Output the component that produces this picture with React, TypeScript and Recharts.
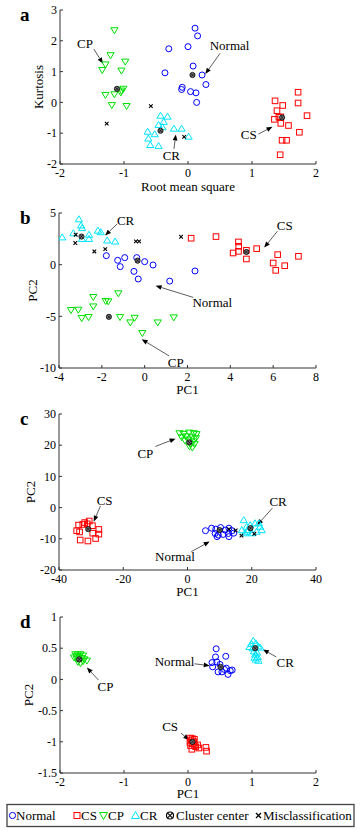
import React from "react";
import {
  ScatterChart,
  Scatter,
  XAxis,
  YAxis,
  ReferenceLine,
  ReferenceDot,
} from "recharts";

type Pt = [number, number];

// ---- panel a: RMS vs kurtosis ----
const normalA: Pt[] = [[0.11, 2.41], [0.15, 2.16], [-0.3, 1.74], [0.0, 1.81], [0.08, 1.18], [-0.36, 0.96], [0.22, 0.89], [0.28, 0.58], [-0.09, 0.49], [-0.1, 0.42], [0.04, 0.35], [0.125, 0.31], [0.135, 0.0]];
const csA: Pt[] = [[1.36, 0.05], [1.72, 0.33], [1.72, -0.02], [1.48, -0.1], [1.39, -0.27], [1.42, -0.48], [1.35, -0.55], [1.45, -0.47], [1.45, -0.68], [1.57, -0.75], [1.86, -0.43], [1.74, -0.97], [1.47, -1.23], [1.54, -1.23], [1.44, -1.7]];
const cpA: Pt[] = [[-1.15, 2.34], [-1.21, 1.53], [-1.29, 1.23], [-1.34, 1.05], [-0.98, 1.32], [-1.04, 1.03], [-1.01, 0.44], [-1.04, 0.38], [-1.05, 0.32], [-1.15, 0.26], [-1.29, 0.24], [-1.19, -0.09], [-0.96, -0.12]];
const crA: Pt[] = [[-0.43, -0.43], [-0.32, -0.46], [-0.38, -0.63], [-0.46, -0.73], [-0.4, -0.8], [-0.22, -0.85], [-0.1, -0.85], [-0.63, -0.95], [-0.52, -1.03], [-0.62, -1.17], [0.01, -1.11], [-0.59, -1.38], [-0.46, -1.41]];
const centersA: Pt[] = [[0.07, 0.89], [-1.11, 0.44], [-0.43, -0.92], [1.47, -0.49]];
const missA: Pt[] = [[-0.58, -0.12], [-1.27, -0.69], [-0.06, -1.12]];

// ---- panel b: PCA ----
const normalB: Pt[] = [[-1.79, 0.87], [-1.26, 0.42], [-0.93, 0.68], [-1.14, -0.19], [-0.37, 0.68], [0.0, 0.29], [0.39, -0.03], [-0.5, -0.65], [-0.3, -1.39], [1.17, -1.59], [2.35, -0.61]];
const csB: Pt[] = [[2.17, 2.56], [3.33, 2.72], [4.38, 2.2], [4.39, 1.78], [4.13, 1.13], [4.38, 1.29], [4.75, 1.39], [4.75, 0.55], [5.23, 1.55], [6.21, 0.97], [6.0, 0.16], [6.12, -0.55], [6.54, -0.1], [7.18, 0.81]];
const cpB: Pt[] = [[-1.23, -2.78], [-2.4, -3.14], [-2.4, -4.05], [-3.44, -4.4], [-3.1, -4.37], [-2.94, -5.18], [-2.62, -5.08], [-1.82, -3.53], [-1.7, -3.56], [-1.15, -5.08], [-0.47, -5.15], [-0.67, -5.6], [0.61, -5.6], [1.36, -5.11], [-0.11, -6.63]];
const crB: Pt[] = [[-3.07, 4.4], [-2.97, 3.8], [-2.92, 3.55], [-3.33, 3.05], [-3.85, 2.65], [-2.93, 2.5], [-2.6, 2.9], [-2.6, 2.5], [-2.18, 3.3], [-2.05, 3.15], [-1.75, 2.35], [-1.38, 2.25]];
const centersB: Pt[] = [[-0.33, 0.39], [-2.95, 2.72], [4.75, 1.23], [-1.67, -5.05]];
const missB: Pt[] = [[-3.22, 2.9], [-3.24, 2.1], [-2.35, 1.28], [-1.84, 1.5], [-0.41, 2.25], [-0.26, 2.25], [1.7, 2.7]];

// ---- panel c ----
const normalC: Pt[] = [[5.6, -7.4], [7.5, -6.6], [8.8, -6.9], [10.3, -6.4], [11.7, -7.2], [12.9, -6.6], [8.6, -8.3], [9.2, -9.3], [11.1, -8.6], [12.7, -8.3], [13.9, -7.4], [12.9, -9.3], [14.4, -8.2], [9.6, -8.8]];
const csC: Pt[] = [[-33.9, -5.6], [-34.5, -7.4], [-33.6, -7.8], [-33.4, -10.4], [-31.0, -10.7], [-28.6, -9.9], [-27.6, -7.0], [-27.6, -8.5], [-29.5, -8.2], [-32.0, -4.8], [-30.6, -4.3], [-31.2, -5.2], [-29.6, -5.8], [-32.6, -5.4]];
const cpC: Pt[] = [[-2.5, 23.8], [-1.2, 23.6], [0.5, 24.0], [2.0, 23.8], [2.8, 23.5], [-1.8, 22.5], [-0.5, 22.8], [1.5, 22.5], [2.6, 22.2], [0.2, 21.8], [1.8, 21.2], [-0.8, 21.5], [1.0, 20.4], [2.2, 20.3], [0.6, 19.6], [1.5, 19.2]];
const crC: Pt[] = [[16.9, -7.2], [17.5, -4.0], [18.4, -6.1], [19.5, -5.6], [21.0, -5.0], [22.2, -5.0], [22.6, -6.1], [23.1, -7.2], [17.9, -8.2], [20.0, -8.2], [21.5, -7.7], [18.9, -7.2], [18.6, -7.7]];
const centersC: Pt[] = [[10.0, -7.2], [0.56, 20.9], [-30.9, -6.9], [19.6, -6.6]];
const missC: Pt[] = [[12.9, -6.9], [15.0, -7.3], [16.8, -9.0], [20.8, -8.4]];

// ---- panel d ----
const normalD: Pt[] = [[0.44, 0.49], [0.59, 0.37], [0.43, 0.36], [0.375, 0.27], [0.45, 0.28], [0.385, 0.2], [0.47, 0.12], [0.57, 0.16], [0.69, 0.15], [0.625, 0.08], [0.53, 0.12], [0.5, 0.24], [0.6, 0.18], [0.66, 0.14]];
const csD: Pt[] = [[0.04, -0.94], [0.07, -0.95], [0.1, -0.96], [0.05, -0.98], [0.09, -1.0], [0.03, -1.01], [0.07, -1.03], [0.04, -1.06], [0.1, -1.06], [0.06, -1.12], [0.15, -1.05], [0.17, -1.1], [0.28, -1.09], [0.29, -1.15], [0.12, -1.08]];
const cpD: Pt[] = [[-1.76, 0.4], [-1.72, 0.4], [-1.68, 0.4], [-1.64, 0.38], [-1.78, 0.35], [-1.74, 0.33], [-1.66, 0.34], [-1.62, 0.32], [-1.58, 0.3], [-1.72, 0.28], [-1.68, 0.26], [-1.64, 0.29], [-1.74, 0.37], [-1.7, 0.36]];
const crD: Pt[] = [[1.02, 0.62], [0.99, 0.57], [1.06, 0.58], [0.96, 0.52], [1.01, 0.5], [1.1, 0.53], [1.13, 0.51], [1.03, 0.45], [1.08, 0.43], [1.05, 0.4], [1.09, 0.36], [1.06, 0.32], [1.1, 0.3], [1.04, 0.35]];
const centersD: Pt[] = [[0.51, 0.2], [-1.7, 0.32], [1.05, 0.5], [0.07, -1.0]];
const missD: Pt[] = [];

// tick labels
const ticksAX = [-2, -1, 0, 1, 2];
const ticksAY = [-2, -1, 0, 1, 2, 3];
const ticksBX = [-4, -2, 0, 2, 4, 6, 8];
const ticksBY = [-10, -5, 0, 5];
const ticksCX = [-40, -20, 0, 20, 40];
const ticksCY = [-20, -10, 0, 10, 20, 30];
const ticksDX = [-2, -1, 0, 1, 2];
const ticksDY = [-1.5, -1, -0.5, 0, 0.5, 1];

// annotations: label point, arrow tail, arrow head (data units)
type Note = { text: string; lx: number; ly: number; x1: number; y1: number; x2: number; y2: number };
const notesA: Note[] = [
  { text: "CP", lx: -1.61, ly: 1.9, x1: -1.47, y1: 1.73, x2: -1.33, y2: 1.26 },
  { text: "Normal", lx: 0.65, ly: 1.84, x1: 0.5, y1: 1.59, x2: 0.27, y2: 0.92 },
  { text: "CR", lx: -0.26, ly: -1.71, x1: -0.22, y1: -1.51, x2: -0.19, y2: -1.04 },
  { text: "CS", lx: 0.95, ly: -1.03, x1: 1.1, y1: -1.03, x2: 1.32, y2: -0.79 },
];
const notesB: Note[] = [
  { text: "CR", lx: -0.89, ly: 4.3, x1: -1.28, y1: 3.95, x2: -1.85, y2: 2.82 },
  { text: "CS", lx: 6.54, ly: 3.75, x1: 6.2, y1: 3.24, x2: 5.58, y2: 1.65 },
  { text: "Normal", lx: 3.16, ly: -3.62, x1: 2.27, y1: -3.17, x2: 0.51, y2: -2.04 },
  { text: "CP", lx: 1.45, ly: -9.51, x1: 1.14, y1: -8.83, x2: -0.14, y2: -7.22 },
];
const notesC: Note[] = [
  { text: "CP", lx: -13.1, ly: 17.5, x1: -10, y1: 19.6, x2: -3.7, y2: 22.1 },
  { text: "CS", lx: -25.8, ly: 2.4, x1: -27.1, y1: 0.5, x2: -29.2, y2: -4.5 },
  { text: "CR", lx: 28.2, ly: 1.9, x1: 26.4, y1: -0.2, x2: 21.7, y2: -5.6 },
  { text: "Normal", lx: -3.9, ly: -15.5, x1: 1.2, y1: -14.1, x2: 6.9, y2: -10.9 },
];
const notesD: Note[] = [
  { text: "CP", lx: -1.29, ly: -0.12, x1: -1.4, y1: -0.01, x2: -1.58, y2: 0.19 },
  { text: "Normal", lx: -0.21, ly: 0.28, x1: 0.1, y1: 0.25, x2: 0.34, y2: 0.22 },
  { text: "CR", lx: 1.52, ly: 0.27, x1: 1.38, y1: 0.36, x2: 1.17, y2: 0.48 },
  { text: "CS", lx: -0.28, ly: -0.75, x1: -0.11, y1: -0.86, x2: 0.02, y2: -0.97 },
];

const legendItems = ["Normal", "CS", "CP", "CR", "Cluster center", "Misclassification"];

const FONT = '"Liberation Serif", "Times New Roman", serif';
const AXIS = "#333";
const BLUE = "#0000ff";
const RED = "#ff0000";
const GREEN = "#00e000";
const CYAN = "#00e5ff";

const toXY = (pts: Pt[]) => pts.map(([x, y]) => ({ x, y }));

// marker shapes
const circleShape = (p: any) => <circle cx={p.cx} cy={p.cy} r={3} fill="none" stroke={BLUE} strokeWidth={1} />;
const squareShape = (p: any) => <rect x={p.cx - 2.8} y={p.cy - 2.8} width={5.6} height={5.6} fill="none" stroke={RED} strokeWidth={1} />;
const downShape = (p: any) => (
  <polygon points={`${p.cx - 3.6},${p.cy - 2.6} ${p.cx + 3.6},${p.cy - 2.6} ${p.cx},${p.cy + 3.4}`} fill="none" stroke={GREEN} strokeWidth={1} />
);
const upShape = (p: any) => (
  <polygon points={`${p.cx - 3.6},${p.cy + 2.6} ${p.cx + 3.6},${p.cy + 2.6} ${p.cx},${p.cy - 3.4}`} fill="none" stroke={CYAN} strokeWidth={1} />
);
const centerShape = (p: any) => (
  <g>
    <circle cx={p.cx} cy={p.cy} r={2.6} fill="#777" stroke="#000" strokeWidth={0.8} />
    <path d={`M${p.cx - 1.6},${p.cy - 1.6}L${p.cx + 1.6},${p.cy + 1.6}M${p.cx + 1.6},${p.cy - 1.6}L${p.cx - 1.6},${p.cy + 1.6}`} stroke="#000" strokeWidth={0.7} />
  </g>
);
const missShape = (p: any) => (
  <path d={`M${p.cx - 1.8},${p.cy - 1.8}L${p.cx + 1.8},${p.cy + 1.8}M${p.cx + 1.8},${p.cy - 1.8}L${p.cx - 1.8},${p.cy + 1.8}`} stroke="#000" strokeWidth={1.1} />
);

const arrowShape = (p: any) => {
  const { x1, y1, x2, y2 } = p;
  const a = Math.atan2(y2 - y1, x2 - x1);
  const L = 6;
  const W = 2.4;
  const bx = x2 - L * Math.cos(a);
  const by = y2 - L * Math.sin(a);
  const nx = -Math.sin(a) * W;
  const ny = Math.cos(a) * W;
  return (
    <g>
      <line x1={x1} y1={y1} x2={bx} y2={by} stroke="#333" strokeWidth={0.8} />
      <polygon points={`${x2},${y2} ${bx + nx},${by + ny} ${bx - nx},${by - ny}`} fill="#000" />
    </g>
  );
};

type Box = { left: number; top: number; right: number; bottom: number };

interface PanelProps {
  letter: string;
  box: Box;
  xTicks: number[];
  yTicks: number[];
  xLabel: string;
  yLabel: string;
  xLabelGap: number;
  yLabelGap: number;
  normal: Pt[];
  cs: Pt[];
  cp: Pt[];
  cr: Pt[];
  centers: Pt[];
  miss: Pt[];
  notes: Note[];
}

function Panel(props: PanelProps) {
  const { letter, box, xTicks, yTicks, xLabel, yLabel, xLabelGap, yLabelGap } = props;
  const yW = 40;
  const xH = 30;
  const width = 364;
  const height = box.bottom - box.top + 10 + xH + 4;
  const xDomain = [xTicks[0], xTicks[xTicks.length - 1]];
  const yDomain = [yTicks[0], yTicks[yTicks.length - 1]];
  const tick = { fontSize: 12, fill: "#000", fontFamily: FONT };

  return (
    <div style={{ position: "absolute", left: 0, top: box.top - 10, width, height }}>
      <ScatterChart
        width={width}
        height={height}
        margin={{ top: 10, right: width - box.right, bottom: 4, left: box.left - yW }}
        style={{ fontFamily: FONT }}
      >
        <XAxis
          type="number"
          dataKey="x"
          domain={xDomain}
          ticks={xTicks}
          interval={0}
          allowDataOverflow
          height={xH}
          tick={tick}
          tickSize={-3}
          tickMargin={7}
          stroke={AXIS}
          label={(lp: any) => {
            const vb = lp.viewBox;
            return (
              <text x={vb.x + vb.width / 2} y={vb.y + xLabelGap} textAnchor="middle" fontSize={13} fill="#000" fontFamily={FONT}>
                {xLabel}
              </text>
            );
          }}
        />
        <XAxis xAxisId="top" orientation="top" type="number" domain={xDomain} ticks={xTicks} interval={0} allowDataOverflow height={0} tick={false} tickSize={-3} stroke={AXIS} />
        <YAxis
          type="number"
          dataKey="y"
          domain={yDomain}
          ticks={yTicks}
          interval={0}
          allowDataOverflow
          width={yW}
          tick={tick}
          tickSize={-3}
          tickMargin={6}
          stroke={AXIS}
          label={(lp: any) => {
            const vb = lp.viewBox;
            const x = vb.x + vb.width - yLabelGap;
            const y = vb.y + vb.height / 2;
            return (
              <text x={x} y={y} transform={`rotate(-90 ${x} ${y})`} textAnchor="middle" fontSize={13} fill="#000" fontFamily={FONT}>
                {yLabel}
              </text>
            );
          }}
        />
        <YAxis yAxisId="right" orientation="right" type="number" domain={yDomain} ticks={yTicks} interval={0} allowDataOverflow width={0} tick={false} tickSize={-3} stroke={AXIS} />

        <Scatter data={toXY(props.normal)} shape={circleShape} isAnimationActive={false} />
        <Scatter data={toXY(props.cs)} shape={squareShape} isAnimationActive={false} />
        <Scatter data={toXY(props.cp)} shape={downShape} isAnimationActive={false} />
        <Scatter data={toXY(props.cr)} shape={upShape} isAnimationActive={false} />
        <Scatter data={toXY(props.miss)} shape={missShape} isAnimationActive={false} />
        <Scatter data={toXY(props.centers)} shape={centerShape} isAnimationActive={false} />

        {props.notes.map((n) => (
          <ReferenceLine
            key={"l" + n.text}
            segment={[{ x: n.x1, y: n.y1 }, { x: n.x2, y: n.y2 }]}
            shape={arrowShape}
            ifOverflow="visible"
          />
        ))}
        {props.notes.map((n) => (
          <ReferenceDot
            key={"t" + n.text}
            x={n.lx}
            y={n.ly}
            r={1}
            ifOverflow="visible"
            shape={(p: any) => (
              <text x={p.cx} y={p.cy} dy="0.35em" textAnchor="middle" fontSize={13} fill="#000" fontFamily={FONT}>
                {n.text}
              </text>
            )}
          />
        ))}
      </ScatterChart>
      <div style={{ position: "absolute", left: 20, top: 5, fontFamily: FONT, fontWeight: "bold", fontSize: 19, lineHeight: "19px" }}>
        {letter}
      </div>
    </div>
  );
}

const legendIcon = (i: number, cx: number, cy: number) => {
  switch (i) {
    case 0:
      return <circle cx={cx} cy={cy} r={3.1} fill="none" stroke={BLUE} />;
    case 1:
      return <rect x={cx - 3} y={cy - 3} width={6} height={6} fill="none" stroke={RED} />;
    case 2:
      return <polygon points={`${cx - 4},${cy - 3} ${cx + 4},${cy - 3} ${cx},${cy + 4}`} fill="none" stroke={GREEN} />;
    case 3:
      return <polygon points={`${cx - 4},${cy + 3} ${cx + 4},${cy + 3} ${cx},${cy - 4}`} fill="none" stroke={CYAN} />;
    case 4:
      return (
        <g>
          <circle cx={cx} cy={cy} r={3.5} fill="none" stroke="#000" strokeWidth={1.2} />
          <path d={`M${cx - 2.4},${cy - 2.4}L${cx + 2.4},${cy + 2.4}M${cx + 2.4},${cy - 2.4}L${cx - 2.4},${cy + 2.4}`} stroke="#000" strokeWidth={1.1} />
        </g>
      );
    default:
      return <path d={`M${cx - 2.5},${cy - 2.5}L${cx + 2.5},${cy + 2.5}M${cx + 2.5},${cy - 2.5}L${cx - 2.5},${cy + 2.5}`} stroke="#000" strokeWidth={1.3} />;
  }
};

// legend layout (page x of each icon centre and each text start)
const legendIconX = [12.5, 77, 103.5, 135.5, 170, 258.5];
const legendTextX = [16, 81, 108, 140, 176, 263];

export default function App() {
  return (
    <div style={{ position: "absolute", left: 0, top: 0, width: 364, height: 831, background: "#fff", fontFamily: FONT }}>
      <Panel letter="a" box={{ left: 60, top: 10, right: 316, bottom: 164 }} xTicks={ticksAX} yTicks={ticksAY}
        xLabel="Root mean square" yLabel="Kurtosis" xLabelGap={27} yLabelGap={17}
        normal={normalA} cs={csA} cp={cpA} cr={crA} centers={centersA} miss={missA} notes={notesA} />
      <Panel letter="b" box={{ left: 59, top: 213, right: 316, bottom: 368 }} xTicks={ticksBX} yTicks={ticksBY}
        xLabel="PC1" yLabel="PC2" xLabelGap={26} yLabelGap={22}
        normal={normalB} cs={csB} cp={cpB} cr={crB} centers={centersB} miss={missB} notes={notesB} />
      <Panel letter="c" box={{ left: 59, top: 414, right: 316, bottom: 570 }} xTicks={ticksCX} yTicks={ticksCY}
        xLabel="PC1" yLabel="PC2" xLabelGap={26} yLabelGap={24}
        normal={normalC} cs={csC} cp={cpC} cr={crC} centers={centersC} miss={missC} notes={notesC} />
      <Panel letter="d" box={{ left: 60, top: 617, right: 316, bottom: 773 }} xTicks={ticksDX} yTicks={ticksDY}
        xLabel="PC1" yLabel="PC2" xLabelGap={25} yLabelGap={27}
        normal={normalD} cs={csD} cp={cpD} cr={crD} centers={centersD} miss={missD} notes={notesD} />

      <svg width={364} height={26} style={{ position: "absolute", left: 0, top: 803 }}>
        <rect x={7} y={1.5} width={347} height={22} fill="#fff" stroke="#444" strokeWidth={1.3} />
        {legendItems.map((name, i) => (
          <g key={name}>
            {legendIcon(i, legendIconX[i], 12.5)}
            <text x={legendTextX[i]} y={16.5} fontSize={13} fill="#000" fontFamily={FONT}>
              {name}
            </text>
          </g>
        ))}
      </svg>
    </div>
  );
}
